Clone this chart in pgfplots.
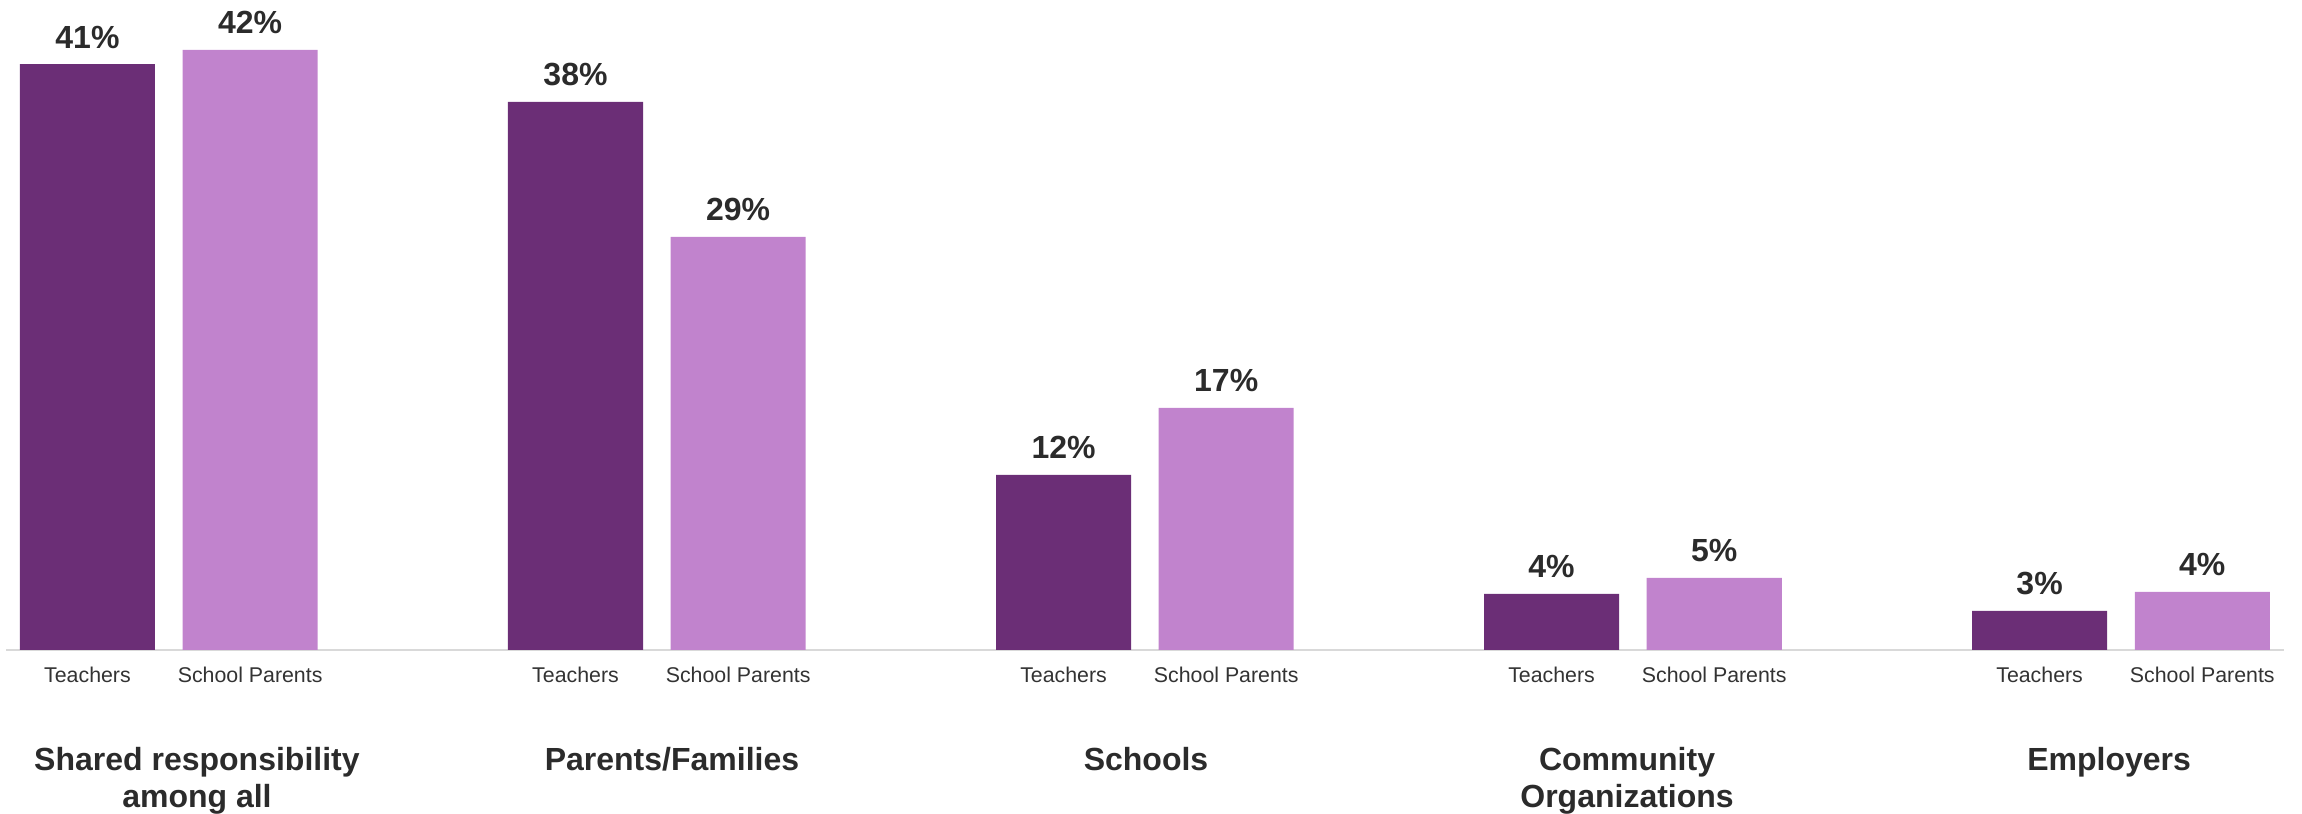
\documentclass[border=0pt]{standalone}
\usepackage{pgfplots}
\pgfplotsset{compat=1.18}
\usepackage{fontspec}
\setmainfont{Liberation Sans}
\definecolor{dark}{HTML}{6B2E76}
\definecolor{light}{HTML}{C183CD}
\definecolor{txt}{HTML}{2B2B2B}
\definecolor{ticktxt}{HTML}{333333}
\definecolor{axl}{HTML}{D9D9D9}
\begin{document}
\begin{tikzpicture}
\begin{axis}[name=ax, scale only axis, width=854.0pt, height=241.1pt,
 xmin=-0.5, xmax=13.5, ymin=0, ymax=45,
 axis x line*=bottom, axis y line=none,
 x axis line style={draw=axl, line width=0.75pt},
 xtick={0,1,3,4,6,7,9,10,12,13},
 xticklabels={Teachers,School Parents,Teachers,School Parents,Teachers,School Parents,Teachers,School Parents,Teachers,School Parents},
 xtick style={draw=none}, major tick length=0pt,
 xticklabel style={anchor=base, yshift=-12.4pt, font=\fontsize{8}{9.6}\selectfont, text=ticktxt},
 ytick=\empty,
 ybar, bar width=0.83, bar shift=0pt,
 clip=false,
 /pgf/number format/assume math mode=true,
 nodes near coords={\pgfmathprintnumber[fixed,precision=0]{\pgfplotspointmeta}\%},
 nodes near coords style={anchor=base, yshift=6pt, font=\fontsize{12}{14.4}\selectfont\bfseries, text=txt},
]
\addplot[fill=dark, draw=none] coordinates {(0,41.0) (3,38.35) (6,12.25) (9,3.92) (12,2.73)};
\addplot[fill=light, draw=none] coordinates {(1,42.0) (4,28.9) (7,16.94) (10,5.04) (13,4.06)};
\begin{scope}[every node/.style={anchor=north, align=center, inner sep=0pt, font=\fontsize{12}{13.9}\selectfont\bfseries, text=txt}]
\node at (axis cs:0.673,-6.79) {Shared responsibility\\among all};
\node at (axis cs:3.593,-6.79) {Parents/Families};
\node at (axis cs:6.507,-6.79) {Schools};
\node at (axis cs:9.464,-6.79) {Community\\Organizations};
\node at (axis cs:12.427,-6.79) {Employers};
\end{scope}
\end{axis}
\pgfresetboundingbox
\path ([xshift=-2.3pt,yshift=-61.5pt]ax.south west) rectangle ([xshift=6.9pt,yshift=2.6pt]ax.north east);
\end{tikzpicture}
\end{document}
